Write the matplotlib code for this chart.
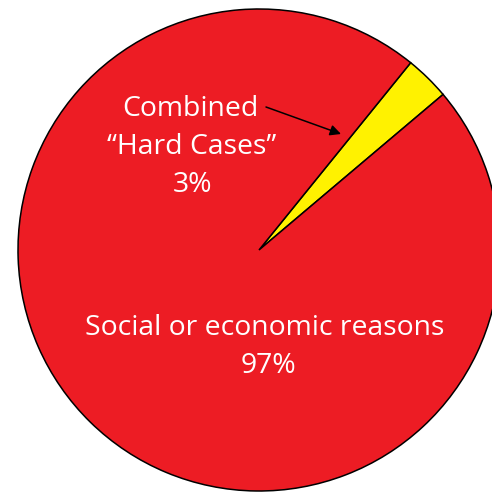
import matplotlib
matplotlib.use("Agg")
import matplotlib.pyplot as plt

# data
labels = ["Combined\n\u201cHard Cases\u201d", "Social or economic reasons"]
shares = [3, 97]
colors = ["#FFF200", "#ED1C24"]

W = 492
fig = plt.figure(figsize=(W / 100, W / 100), dpi=100)
ax = fig.add_axes([0, 0, 1, 1])

cx, cy, r = 259, W - 250, 241
ax.pie(shares, colors=colors, startangle=40.2, counterclock=True,
       center=(cx, cy), radius=r, frame=True,
       wedgeprops=dict(edgecolor="black", linewidth=1.1))
ax.set_xlim(0, W)
ax.set_ylim(0, W)
ax.set_aspect("equal")
ax.axis("off")

fnt = dict(family="Open Sans", color="white", fontsize=20.4, ha="center",
           va="baseline")

top = labels[0].split("\n")
ax.text(190, W - 116, top[0], **fnt)
ax.text(192, W - 154, top[1], **fnt)
ax.text(193, W - 192, f"{shares[0]}%", **fnt)

ax.text(265, W - 335, labels[1], **fnt)
ax.text(268, W - 373, f"{shares[1]}%", **fnt)

ax.annotate("", xy=(341, W - 134), xytext=(266, W - 107),
            arrowprops=dict(arrowstyle="-|>", color="black", lw=1.1,
                            mutation_scale=16, shrinkA=0, shrinkB=0))

fig.savefig("out.png", dpi=100)
